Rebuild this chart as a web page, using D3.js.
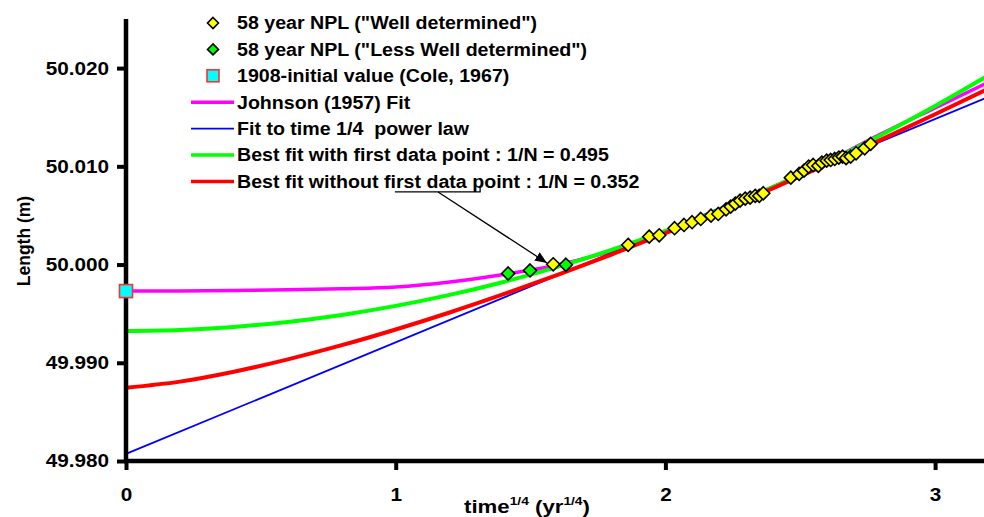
<!DOCTYPE html>
<html>
<head>
<meta charset="utf-8">
<script src="https://cdn.jsdelivr.net/npm/d3@7"></script>
<style>
  body { margin: 0; background: #fff; }
  svg text { font-family: "Liberation Sans", Arial, sans-serif; font-weight: bold; fill: #000; }
</style>
</head>
<body>
<div id="chart"></div>
<script>
// 58 year NPL data, "well determined"
var wellX = [1.584, 1.862, 1.940, 1.977, 2.034, 2.069, 2.099, 2.131, 2.169, 2.196, 2.225, 2.242,
             2.259, 2.277, 2.296, 2.314, 2.333, 2.348, 2.363, 2.465, 2.496, 2.514, 2.531, 2.548,
             2.567, 2.580, 2.598, 2.613, 2.628, 2.643, 2.657, 2.670, 2.687, 2.707, 2.739, 2.761];
var wellY = [50.00003, 50.00200, 50.00284, 50.00298, 50.00370, 50.00403, 50.00431, 50.00464, 50.00498, 50.00515, 50.00563, 50.00590,
             50.00620, 50.00651, 50.00671, 50.00681, 50.00699, 50.00699, 50.00726, 50.00885, 50.00923, 50.00956, 50.00997, 50.01014,
             50.01004, 50.01038, 50.01058, 50.01065, 50.01075, 50.01089, 50.01099, 50.01083, 50.01099, 50.01133, 50.01184, 50.01228];

// "less well determined"
var lessX = [1.417, 1.498, 1.631];
var lessY = [49.99909, 49.99940, 49.99998];

// 1908 initial value
var coleX = [0];
var coleY = [49.9973];

// fitted curves
var fitX       = [0, 0.2, 0.4, 0.6, 0.8, 1.0, 1.2, 1.4, 1.6, 1.8, 2.0, 2.2, 2.4, 2.6, 2.8, 3.0, 3.2];
var johnsonY   = [49.99731, 49.99732, 49.99736, 49.99743, 49.99754, 49.99772, 49.99823, 49.99899, 49.99996,
                  50.00138, 50.00332, 50.00546, 50.00780, 50.01045, 50.01330, 50.01595, 50.01859];
var withFirstY = [49.99324, 49.99334, 49.99365, 49.99416, 49.99487, 49.99579, 49.99691, 49.99823, 49.99976,
                  50.00149, 50.00342, 50.00556, 50.00791, 50.01045, 50.01320, 50.01615, 50.01931];
var withoutY   = [49.98746, 49.98808, 49.98909, 49.99035, 49.99179, 49.99339, 49.99512, 49.99698, 49.99895,
                  50.00102, 50.00319, 50.00545, 50.00779, 50.01021, 50.01272, 50.01530, 50.01794];
var powerX = [0, 3.2];
var powerY = [49.98072, 50.01709];

var xTicks = [0, 1, 2, 3];
var yTicks = [49.98, 49.99, 50.00, 50.01, 50.02];

var legendLabels = [
  '58 year NPL ("Well determined")',
  '58 year NPL ("Less Well determined")',
  '1908-initial value (Cole, 1967)',
  'Johnson (1957) Fit',
  'Fit to time 1/4  power law',
  'Best fit with first data point : 1/N = 0.495',
  'Best fit without first data point : 1/N = 0.352'
];

var width = 984, height = 517;
var margin = {top: 19, left: 126, bottom: 56};
var widen = 1.12;   // the original lettering is a bit wider than Liberation Sans

var x = d3.scaleLinear().domain([0, 3.2]).range([margin.left, margin.left + 3.2 * 269.7]);
var y = d3.scaleLinear().domain([49.980, 50.025]).range([461, 19]);

var svg = d3.select("#chart").append("svg")
    .attr("width", width)
    .attr("height", height);

svg.append("defs").append("marker")
    .attr("id", "arrowhead")
    .attr("viewBox", "0 0 12 10")
    .attr("refX", 12).attr("refY", 5)
    .attr("markerWidth", 12).attr("markerHeight", 10)
    .attr("markerUnits", "userSpaceOnUse")
    .attr("orient", "auto")
    .append("path")
    .attr("d", "M0,0L12,5L0,10Z")
    .attr("fill", "#000");

// stretch text horizontally
function stretch(sel, k) {
  sel.each(function () {
    var w = this.getComputedTextLength();
    d3.select(this).attr("textLength", w * k).attr("lengthAdjust", "spacingAndGlyphs");
  });
}

// curves
function curve(xs, ys) {
  return d3.line()
    .x(function (d, i) { return x(xs[i]); })
    .y(function (d) { return y(d); })
    .curve(d3.curveMonotoneX)(ys);
}

svg.append("path").attr("d", curve(fitX, johnsonY))
  .attr("fill", "none").attr("stroke", "#ff00ff").attr("stroke-width", 3.5);
svg.append("path").attr("d", curve(powerX, powerY))
  .attr("fill", "none").attr("stroke", "#0000ff").attr("stroke-width", 1.8);
svg.append("path").attr("d", curve(fitX, withFirstY))
  .attr("fill", "none").attr("stroke", "#00ff00").attr("stroke-width", 4);
svg.append("path").attr("d", curve(fitX, withoutY))
  .attr("fill", "none").attr("stroke", "#ff0000").attr("stroke-width", 4);

// axes
var yAxis = d3.axisLeft(y).tickValues(yTicks).tickSize(9).tickSizeOuter(0).tickPadding(8)
  .tickFormat(d3.format(".3f"));
var xAxis = d3.axisBottom(x).tickValues(xTicks).tickSize(9).tickSizeOuter(0).tickPadding(18)
  .tickFormat(d3.format("d"));

var gy = svg.append("g").attr("transform", "translate(" + margin.left + ",0)").call(yAxis);
var gx = svg.append("g").attr("transform", "translate(0," + y(49.98) + ")").call(xAxis);
[gx, gy].forEach(function (g) {
  g.select(".domain").remove();
  g.selectAll(".tick line").attr("stroke", "#000").attr("stroke-width", 4);
  g.selectAll(".tick text").attr("font-size", 18.5)
    .style("font-family", '"Liberation Sans", Arial, sans-serif').style("font-weight", "bold");
  stretch(g.selectAll(".tick text"), widen);
});

// heavy axis lines
svg.append("line")
  .attr("x1", x(0)).attr("x2", x(0))
  .attr("y1", y(49.98)).attr("y2", y(50.025))
  .attr("stroke", "#000").attr("stroke-width", 4.5);
svg.append("line")
  .attr("x1", x(0) - 2).attr("x2", width)
  .attr("y1", y(49.98)).attr("y2", y(49.98))
  .attr("stroke", "#000").attr("stroke-width", 4.5);

// axis titles
svg.append("text")
  .attr("transform", "translate(30," + 241 + ") rotate(-90)")
  .attr("text-anchor", "middle")
  .attr("font-size", 17.5)
  .text("Length (m)");

var xtg = svg.append("g").attr("transform", "translate(527,513) scale(1.2,1)");
var xt = xtg.append("text")
  .attr("x", 0).attr("y", 0)
  .attr("text-anchor", "middle")
  .attr("font-size", 18.5);
xt.append("tspan").text("time");
xt.append("tspan").attr("font-size", 11.5).attr("dy", -8).text("1/4");
xt.append("tspan").attr("dy", 8).text(" (yr");
xt.append("tspan").attr("font-size", 11.5).attr("dy", -8).text("1/4");
xt.append("tspan").attr("dy", 8).text(")");

// data points
var diamond = "M0,-6.5L6.5,0L0,6.5L-6.5,0Z";
svg.selectAll(".well").data(wellX).enter().append("path")
  .attr("class", "well")
  .attr("d", diamond)
  .attr("transform", function (d, i) { return "translate(" + x(d) + "," + y(wellY[i]) + ")"; })
  .attr("fill", "#ffff00").attr("stroke", "#000").attr("stroke-width", 1.6);

svg.selectAll(".less").data(lessX).enter().append("path")
  .attr("class", "less")
  .attr("d", diamond)
  .attr("transform", function (d, i) { return "translate(" + x(d) + "," + y(lessY[i]) + ")"; })
  .attr("fill", "#00ff00").attr("stroke", "#000").attr("stroke-width", 1.6);

svg.selectAll(".cole").data(coleX).enter().append("rect")
  .attr("class", "cole")
  .attr("x", function (d) { return x(d) - 6.5; })
  .attr("y", function (d, i) { return y(coleY[i]) - 6.5; })
  .attr("width", 13).attr("height", 13)
  .attr("fill", "#00ffff").attr("stroke", "#ff3030").attr("stroke-width", 1.6);

// legend
var legend = svg.append("g").attr("transform", "translate(213,23)");
var rowH = 26.4;
legendLabels.forEach(function (label, i) {
  var row = legend.append("g").attr("transform", "translate(0," + (i * rowH) + ")");
  if (i === 0 || i === 1) {
    row.append("path").attr("d", "M0,-5.5L5.5,0L0,5.5L-5.5,0Z")
      .attr("fill", i === 0 ? "#ffff00" : "#00ff00")
      .attr("stroke", "#000").attr("stroke-width", 1.6);
  } else if (i === 2) {
    row.append("rect").attr("x", -6).attr("y", -6).attr("width", 12).attr("height", 12)
      .attr("fill", "#00ffff").attr("stroke", "#ff3030").attr("stroke-width", 1.6);
  } else {
    var colors = ["#ff00ff", "#0000ff", "#00ff00", "#ff0000"];
    row.append("line").attr("x1", -22).attr("x2", 21).attr("y1", 0).attr("y2", 0)
      .attr("stroke", colors[i - 3]).attr("stroke-width", i === 4 ? 1.8 : 3.5);
  }
  var t = row.append("text").attr("x", 24).attr("dy", "0.36em").attr("font-size", 17.5)
    .style("white-space", "pre").text(label);
  stretch(t, widen);
});

// callout arrow to the first data point
var calloutY = 50.00739;
svg.append("path")
  .attr("d", d3.line()([[x(1.313), y(50.00790)], [x(1.313), y(calloutY)], [x(0.997), y(calloutY)]]))
  .attr("fill", "none").attr("stroke", "#000").attr("stroke-width", 1.3);
svg.append("line")
  .attr("x1", x(1.157)).attr("y1", y(calloutY))
  .attr("x2", x(1.561)).attr("y2", y(50.00016))
  .attr("stroke", "#000").attr("stroke-width", 1.3)
  .attr("marker-end", "url(#arrowhead)");
</script>
</body>
</html>
